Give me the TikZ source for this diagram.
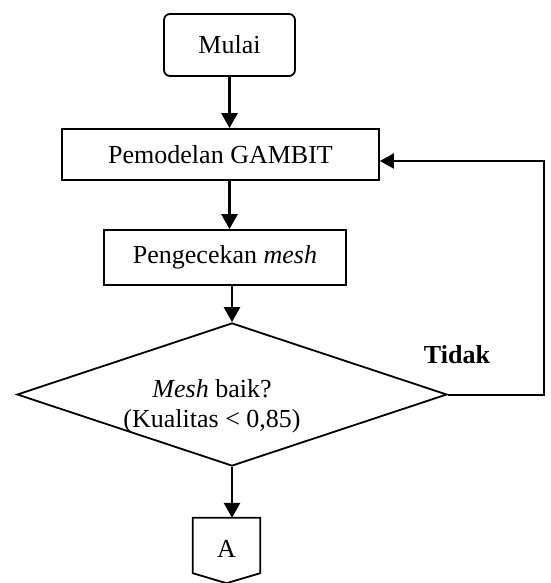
\documentclass[tikz,border=0pt]{standalone}
\usepackage{fontspec}
\setmainfont{Liberation Serif}
\usetikzlibrary{shapes.geometric,arrows.meta,positioning}
\tikzstyle{arrow} = [black, -{Triangle[length=15pt,width=16pt]}, line width=2.8pt]
\begin{document}
\begin{tikzpicture}[x=1pt,y=-1pt]

  \useasboundingbox (0,0) rectangle (550,583);

  \coordinate (Start) at (229.5,45);
  \coordinate (Model) at (220.5,154.5);
  \coordinate (Check) at (225,257.5);
  \coordinate (Decision) at (232,394.5);
  \coordinate (Question) at (212,406);
  \coordinate (Answer) at (457,355);
  \coordinate (Connector) at (226.5,550.5);
  \coordinate (Loop) at (544,161);

  \tikzstyle{sbox}=[draw=black,line width=1.8pt,
                    shape=rectangle,rounded corners=6pt,
                    inner sep=0pt,
                    font=\fontsize{26}{30}\selectfont];
  \tikzstyle{pbox}=[draw=black,line width=1.8pt,
                    shape=rectangle,
                    inner sep=0pt,
                    font=\fontsize{26}{30}\selectfont];
  \tikzstyle{dbox}=[draw=black,line width=1.8pt,
                    shape=diamond,aspect=3,
                    inner sep=0pt];

  \node[sbox,minimum width=131pt,minimum height=62pt] (StartBox) at (Start) {Mulai};

  \node[pbox,minimum width=317pt,minimum height=51pt] (ModelBox) at (Model) {Pemodelan GAMBIT};
  \draw[arrow] (StartBox.south) -- (StartBox.south |- ModelBox.north);

  \node[pbox,minimum width=242pt,minimum height=55pt] (CheckBox) at (Check) {Pengecekan \textit{mesh}};
  \draw[arrow] (ModelBox.south -| StartBox.south) -- (CheckBox.north -| StartBox.south);

  \node[dbox,minimum width=430pt,minimum height=143pt] (DecisionBox) at (Decision) {};
  \node[align=center,inner sep=0pt,font=\fontsize{26}{30}\selectfont] (QuestionText) at (Question)
       {\textit{Mesh} baik?\\(Kualitas < 0,85)};
  \draw[arrow] (CheckBox.south -| DecisionBox.north) -- (DecisionBox.north);

  \node[font=\fontsize{26}{30}\selectfont\bfseries,inner sep=0pt] (AnswerText) at (Answer) {Tidak};
  \draw[line width=2pt,-{Triangle[length=14pt,width=15pt]}] (DecisionBox.east) -| (Loop)
                   -- (ModelBox.east |- Loop);

  \node[minimum width=67pt,minimum height=65pt,inner sep=0pt,
        font=\fontsize{26}{30}\selectfont] (ConnectorBox) at (Connector) {\raisebox{4pt}{A}};
  \draw[line width=1.8pt] (ConnectorBox.north west) -- (ConnectorBox.north east)
                   -- ([yshift=10pt]ConnectorBox.south east) -- (ConnectorBox.south)
                   -- ([yshift=10pt]ConnectorBox.south west) -- cycle;
  \draw[arrow] (DecisionBox.south) -- (DecisionBox.south |- ConnectorBox.north);
\end{tikzpicture}
\end{document}
